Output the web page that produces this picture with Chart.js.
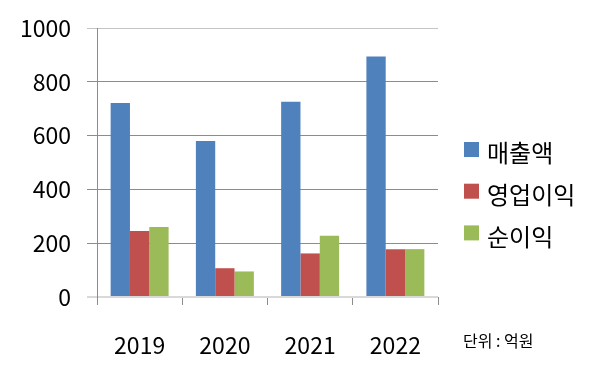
<!DOCTYPE html>
<html>
<head>
<meta charset="utf-8">
<script src="https://cdn.jsdelivr.net/npm/chart.js@4/dist/chart.umd.min.js"></script>
<style>
  html, body { margin: 0; padding: 0; background: #ffffff; }
  #wrap { position: relative; width: 600px; height: 381px; }
</style>
</head>
<body>
<div id="wrap"><canvas id="c" width="600" height="381"></canvas></div>
<script>
const categories = ['2019', '2020', '2021', '2022'];
const seriesNames = ['매출액', '영업이익', '순이익'];
const revenue = [721, 580, 726, 894];
const operatingProfit = [245, 107, 162, 178];
const netProfit = [260, 95, 228, 178];
const unitLabel = '단위 : 억원';

const FONT = '"Noto Sans CJK KR", "Noto Sans", sans-serif';
const colors = ['#4F81BD', '#C0504D', '#9BBB59'];

const legendPlugin = {
  id: 'customLegend',
  afterDraw(chart) {
    const ctx = chart.ctx;
    ctx.save();
    chart.data.datasets.forEach((ds, i) => {
      const y = 142 + i * 41.7;
      ctx.fillStyle = ds.backgroundColor;
      ctx.fillRect(464, y, 15, 15);
      ctx.fillStyle = '#000000';
      ctx.font = '24px ' + FONT;
      ctx.textBaseline = 'middle';
      ctx.textAlign = 'left';
      ctx.fillText(ds.label, 487, y + 11);
    });
    ctx.font = '16px ' + FONT;
    ctx.fillStyle = '#000000';
    ctx.textBaseline = 'middle';
    ctx.fillText(unitLabel, 463, 341);
    ctx.restore();
  }
};

new Chart(document.getElementById('c'), {
  type: 'bar',
  data: {
    labels: categories,
    datasets: [
      { label: seriesNames[0], data: revenue, backgroundColor: colors[0] },
      { label: seriesNames[1], data: operatingProfit, backgroundColor: colors[1] },
      { label: seriesNames[2], data: netProfit, backgroundColor: colors[2] }
    ]
  },
  options: {
    responsive: false,
    animation: false,
    devicePixelRatio: 1,
    layout: { padding: { left: 17, right: 162, top: 10, bottom: 0 } },
    datasets: { bar: { categoryPercentage: 0.68, barPercentage: 1.0, borderWidth: 0 } },
    plugins: { legend: { display: false }, tooltip: { enabled: false } },
    scales: {
      x: {
        grid: {
          offset: true,
          drawOnChartArea: false,
          drawTicks: true,
          tickLength: 8,
          color: '#8c8c8c',
          lineWidth: 1
        },
        border: { display: false },
        ticks: { color: '#000000', font: { family: FONT, size: 23 }, padding: 26 },
        afterFit(scale) { scale.height = 84; }
      },
      y: {
        min: 0,
        max: 1000,
        ticks: {
          stepSize: 200,
          color: '#000000',
          font: { family: FONT, size: 23, lineHeight: 1.05 },
          padding: 16,
          callback: (v) => String(v)
        },
        grid: {
          tickLength: 10,
          color: (c) => c.tick && c.tick.value === 0 ? '#d9d9d9' : (c.tick && c.tick.value === 1000 ? '#c4c4c4' : '#8c8c8c'),
          lineWidth: (c) => c.tick && c.tick.value === 0 ? 2 : 1
        },
        border: { display: true, color: '#8c8c8c', width: 1 },
        afterFit(scale) { scale.width = 80; }
      }
    }
  },
  plugins: [legendPlugin]
});
</script>
</body>
</html>
